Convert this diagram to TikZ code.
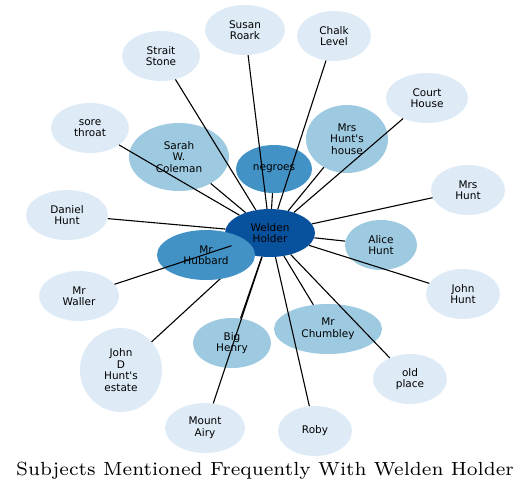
\documentclass[tikz,border=0pt]{standalone}
\usepackage{fontspec}
\newfontfamily\nodefont{DejaVu Sans}
\newfontfamily\titlefont{lmroman7-regular.otf}
\usetikzlibrary{shapes.geometric}
\definecolor{cdark}{HTML}{08519C}
\definecolor{cmid}{HTML}{4292C6}
\definecolor{clight}{HTML}{9ECAE1}
\definecolor{cpale}{HTML}{DEEBF7}
\tikzset{
  nd/.style={ellipse, inner sep=0pt, align=center, font=\nodefont\fontsize{10.5}{11.5}\selectfont, text=black},
  edge/.style={draw=black, line width=1.1pt},
}
\begin{document}
\begin{tikzpicture}[x=1pt,y=-1pt]
\useasboundingbox (0,0) rectangle (532,491);
% hidden edges (under nodes)
\coordinate (cWH) at (270,233);
\coordinate (cMH) at (206,255);
\coordinate (cJD) at (121,370);
\draw[edge] (cWH) -- (cMH);
\draw[edge] (cWH) -- (cJD);
% nodes
\node[nd, fill=cpale, minimum width=80pt, minimum height=50pt] (sr) at (245,30) {Susan\\Roark};
\node[nd, fill=cpale, minimum width=74pt, minimum height=50pt] (cl) at (334,36) {Chalk\\Level};
\node[nd, fill=cpale, minimum width=78pt, minimum height=50pt] (ss) at (161,56) {Strait\\Stone};
\node[nd, fill=cpale, minimum width=82pt, minimum height=50pt] (ch) at (427,98) {Court\\House};
\node[nd, fill=cpale, minimum width=78pt, minimum height=50pt] (st) at (90,128) {sore\\throat};
\node[nd, fill=cpale, minimum width=74pt, minimum height=50pt] (mhu) at (468,190) {Mrs\\Hunt};
\node[nd, fill=cpale, minimum width=82pt, minimum height=50pt] (dh) at (67,215) {Daniel\\Hunt};
\node[nd, fill=cpale, minimum width=74pt, minimum height=50pt] (jh) at (463,294) {John\\Hunt};
\node[nd, fill=cpale, minimum width=80pt, minimum height=50pt] (mw) at (79,296) {Mr\\Waller};
\node[nd, fill=cpale, minimum width=82pt, minimum height=84pt] (jd) at (121,370) {John\\D\\Hunt's\\estate};
\node[nd, fill=cpale, minimum width=74pt, minimum height=50pt] (op) at (410,379) {old\\place};
\node[nd, fill=cpale, minimum width=80pt, minimum height=50pt] (ma) at (205,428) {Mount\\Airy};
\node[nd, fill=cpale, minimum width=74pt, minimum height=50pt] (rb) at (315,431) {Roby};
\node[nd, fill=clight, minimum width=100pt, minimum height=68pt] (sc) at (179,157) {Sarah\\W.\\Coleman};
\node[nd, fill=clight, minimum width=82pt, minimum height=68pt] (mhh) at (347,139) {Mrs\\Hunt's\\house};
\node[nd, fill=clight, minimum width=72pt, minimum height=50pt] (ah) at (381,245) {Alice\\Hunt};
\node[nd, fill=clight, minimum width=108pt, minimum height=50pt] (mc) at (328,329) {Mr\\Chumbley};
\node[nd, fill=clight, minimum width=78pt, minimum height=50pt] (bh) at (232,343) {Big\\Henry};
\node[nd, fill=cmid, minimum width=76pt, minimum height=48pt] (ng) at (274,169) {negroes};
\node[nd, fill=cdark, minimum width=90pt, minimum height=48pt] (wh) at (270,233) {Welden\\Holder};
\node[nd, fill=cmid, minimum width=98pt, minimum height=50pt] (mhb) at (206,255) {Mr\\Hubbard};
% visible edges
\foreach \t in {sr,cl,ss,ch,st,mhu,dh,jh,mw,op,ma,rb,sc,mhh,ah,mc,bh,ng}
  \draw[edge] (wh) -- (\t);
\node[font=\titlefont\fontsize{19}{23}\selectfont, anchor=base] (title) at (265,475.5) {Subjects Mentioned Frequently With Welden Holder};
\end{tikzpicture}
\end{document}
